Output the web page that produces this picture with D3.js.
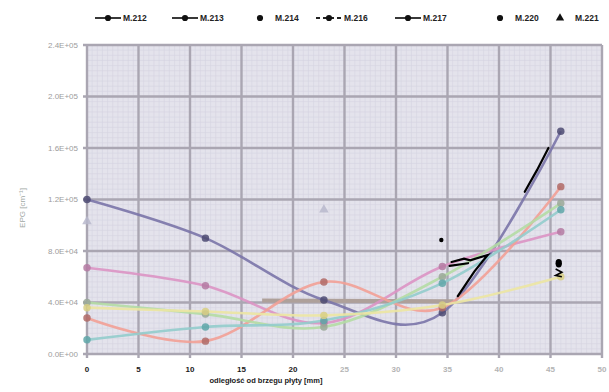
<!DOCTYPE html>
<meta charset="utf-8">
<style>
body { margin: 0; background: #fff; }
svg { font-family: "Liberation Sans", Arial, sans-serif; }
.grid-minor line { stroke: #d5d4e0; stroke-width: 0.6px; }
.grid-major line { stroke: #aaa6b2; stroke-width: 2.4px; }
.ytick { font-size: 8px; fill: #9c9c9c; }
.xtick { font-size: 8px; font-weight: bold; }
.legend text { font-size: 8.5px; font-weight: bold; fill: #222; }
</style>
<svg width="609" height="392"></svg>
<script src="https://d3js.org/d3.v7.min.js"></script>
<script>

// distance from plate edge [mm]
var xs = [0, 11.5, 23, 34.5, 46];

var names = ["M.212", "M.213", "M.214", "M.216", "M.217", "M.220", "M.221"];
var m212 = [120000, 90000, 42000, 32000, 173000];
var m213 = [67000, 53000, 24000, 68000, 95000];
var m214 = [28000, 10000, 56000, 36000, 130000];
var m216 = [40000, 31000, 21000, 60000, 117000];
var m217 = [11000, 21000, 26000, 55000, 112000];
var m220 = [36000, 33000, 30000, 38000, 60000];
var m221 = [103000, null, 112000, null, null];

var xTicks = [0, 5, 10, 15, 20, 25, 30, 35, 40, 45, 50];
var yTicks = [0, 40000, 80000, 120000, 160000, 200000, 240000];
var yTickLabels = ["0.0E+00", "4.0E+04", "8.0E+04", "1.2E+05", "1.6E+05", "2.0E+05", "2.4E+05"];

var lineColors = ["#7a74a8", "#dc94c4", "#f2a096", "#b4dca4", "#92cccc", "#ece6a2", "#cfcfe0"];
var dotColors  = ["#4c4a72", "#b47aa2", "#b06a66", "#9aa898", "#5fa6a8", "#d8cf84", "#b8b8cc"];

var svg = d3.select("svg"),
    margin = {top: 45, right: 7, bottom: 38, left: 87},
    width = +svg.attr("width") - margin.left - margin.right,
    height = +svg.attr("height") - margin.top - margin.bottom;

var x = d3.scaleLinear().domain([0, 50]).range([0, width]),
    y = d3.scaleLinear().domain([0, 240000]).range([height, 0]);

var g = svg.append("g")
    .attr("transform", "translate(" + margin.left + "," + margin.top + ")");

// plot background
g.append("rect")
    .attr("width", width)
    .attr("height", height)
    .attr("fill", "#e4e3ec");

// fine grid
var minor = g.append("g").attr("class", "grid-minor");
minor.selectAll(".mx")
    .data(d3.range(0, 50.01, 0.5))
  .enter().append("line")
    .attr("x1", x).attr("x2", x)
    .attr("y1", 0).attr("y2", height);
minor.selectAll(".my")
    .data(d3.range(0, 240001, 4000))
  .enter().append("line")
    .attr("x1", 0).attr("x2", width)
    .attr("y1", y).attr("y2", y);

// major grid
var major = g.append("g").attr("class", "grid-major");
major.selectAll(".gx")
    .data(xTicks)
  .enter().append("line")
    .attr("x1", x).attr("x2", x)
    .attr("y1", 0).attr("y2", height + 4);
major.selectAll(".gy")
    .data(yTicks)
  .enter().append("line")
    .attr("x1", -4).attr("x2", width)
    .attr("y1", y).attr("y2", y);

// pencil stroke over the 4.0E+04 line
g.append("line")
    .attr("x1", x(17)).attr("x2", x(35.6))
    .attr("y1", y(41500)).attr("y2", y(41000))
    .attr("stroke", "#aea09a")
    .attr("stroke-width", 4);

// tick labels
g.selectAll(".ytick")
    .data(yTicks)
  .enter().append("text")
    .attr("class", "ytick")
    .attr("x", -9)
    .attr("y", y)
    .attr("dy", "0.35em")
    .attr("text-anchor", "end")
    .text(function(d, i) { return yTickLabels[i]; });

g.selectAll(".xtick")
    .data(xTicks)
  .enter().append("text")
    .attr("class", "xtick")
    .attr("x", x)
    .attr("y", height + 18)
    .attr("text-anchor", "middle")
    .attr("fill", function(d) { return d <= 20 ? "#1a1a1a" : "#b4b4b4"; })
    .text(function(d) { return d; });

// axis titles
svg.append("text")
    .attr("x", 266)
    .attr("y", 383)
    .attr("text-anchor", "middle")
    .style("font-size", "7.5px")
    .style("font-weight", "bold")
    .attr("fill", "#1a1a1a")
    .text("odległość od brzegu płyty [mm]");

svg.append("text")
    .attr("transform", "translate(25,208) rotate(-90)")
    .attr("text-anchor", "middle")
    .style("font-size", "8px")
    .attr("fill", "#a0a8a4")
    .text("EPG [cm\u207B\u00B9]");

// series
var seriesVals = [m212, m213, m214, m216, m217, m220, m221];
var series = names.map(function(n, i) {
  return {
    name: n,
    i: i,
    pts: xs.map(function(v, j) { return {x: v, y: seriesVals[i][j]}; })
          .filter(function(p) { return p.y !== null; })
  };
});

var line = d3.line()
    .x(function(d) { return x(d.x); })
    .y(function(d) { return y(d.y); })
    .curve(d3.curveCatmullRom.alpha(0));

g.selectAll(".series")
    .data(series.filter(function(s) { return s.name !== "M.221"; }))
  .enter().append("path")
    .attr("class", "series")
    .attr("fill", "none")
    .attr("stroke", function(s) { return lineColors[s.i]; })
    .attr("stroke-width", 2.6)
    .attr("stroke-opacity", 0.9)
    .attr("d", function(s) { return line(s.pts); });

var dots = g.selectAll(".dots")
    .data(series)
  .enter().append("g");

dots.selectAll("path")
    .data(function(s) { return s.pts.map(function(p) { return {p: p, i: s.i}; }); })
  .enter().append("path")
    .attr("transform", function(d) { return "translate(" + x(d.p.x) + "," + y(d.p.y) + ")"; })
    .attr("d", function(d) {
      return d3.symbol().type(d.i === 6 ? d3.symbolTriangle : d3.symbolCircle).size(d.i === 6 ? 40 : 44)();
    })
    .attr("fill", function(d) { return dotColors[d.i]; })
    .attr("fill-opacity", 0.85);

// hand-drawn pen marks on the scan
var pen = [
  [[44.8, 160000], [43.7, 143000], [42.5, 126000]],
  [[35.4, 71500], [36.6, 74000], [37.2, 72800], [38.9, 76900], [37.6, 64000], [36.0, 45000]],
  [[35.2, 68500], [37.0, 70500]]
];
var penLine = d3.line()
    .x(function(d) { return x(d[0]); })
    .y(function(d) { return y(d[1]); });

g.selectAll(".pen")
    .data(pen)
  .enter().append("path")
    .attr("class", "pen")
    .attr("fill", "none")
    .attr("stroke", "#000")
    .attr("stroke-width", 2.2)
    .attr("stroke-linecap", "round")
    .attr("d", penLine);

g.append("circle")
    .attr("cx", x(34.4)).attr("cy", y(88500))
    .attr("r", 2.2).attr("fill", "#000");
g.append("ellipse")
    .attr("cx", x(45.8)).attr("cy", y(70500))
    .attr("rx", 3.2).attr("ry", 4.2).attr("fill", "#000");
g.append("path")
    .attr("d", penLine([[45.5, 66000], [46.1, 63500], [45.5, 61000], [46.1, 60000]]))
    .attr("fill", "none").attr("stroke", "#000").attr("stroke-width", 1.6);

// legend
var legendX = [95, 172, 247, 316, 395, 487, 547];
var legend = svg.append("g")
    .attr("class", "legend")
    .attr("transform", "translate(0,18)");

var item = legend.selectAll(".item")
    .data(names)
  .enter().append("g")
    .attr("transform", function(d, i) { return "translate(" + legendX[i] + ",0)"; });

item.filter(function(d, i) { return i === 0 || i === 1 || i === 3 || i === 4; })
  .append("line")
    .attr("x1", 0).attr("x2", 26)
    .attr("stroke", "#222")
    .attr("stroke-width", 1.8)
    .attr("stroke-dasharray", function(d, i) { return d === "M.216" ? "4,3" : null; });

item.append("path")
    .attr("transform", "translate(13,0)")
    .attr("d", function(d, i) {
      return d3.symbol().type(i === 6 ? d3.symbolTriangle : d3.symbolCircle).size(30)();
    })
    .attr("fill", "#111");

item.append("text")
    .attr("x", 28)
    .attr("dy", "0.35em")
    .text(function(d) { return d; });

</script>
